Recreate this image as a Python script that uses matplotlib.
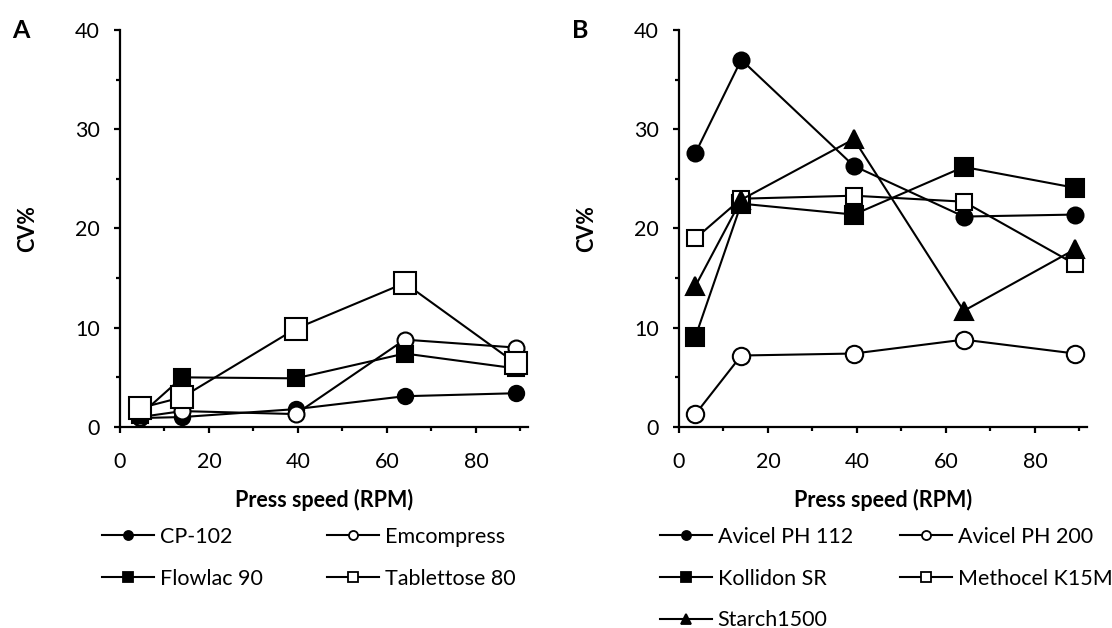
import matplotlib.pyplot as plt
from matplotlib.lines import Line2D
from matplotlib.ticker import MultipleLocator

plt.rcParams['font.family'] = ['Lato', 'DejaVu Sans']

# press speed (RPM)
speed_a = [4.5, 14, 39.5, 64, 89]
speed_b = [3.7, 14, 39.3, 64, 89]

# panel A: CV% per excipient
cp102 = [0.9, 1.0, 1.8, 3.1, 3.4]
emcompress = [1.0, 1.6, 1.3, 8.8, 8.0]
flowlac90 = [1.2, 5.0, 4.9, 7.4, 5.9]
tablettose80 = [1.9, 3.0, 9.9, 14.5, 6.4]

# panel B: CV% per excipient
avicel112 = [27.6, 37.0, 26.3, 21.2, 21.4]
avicel200 = [1.3, 7.2, 7.4, 8.8, 7.4]
kollidon = [9.1, 22.5, 21.4, 26.2, 24.1]
methocel = [19.0, 23.0, 23.3, 22.7, 16.4]
starch = [14.2, 22.9, 29.0, 11.7, 17.9]

fig = plt.figure(figsize=(11.12, 6.28), dpi=100)
ax_a = fig.add_axes([0.1079, 0.3201, 0.3669, 0.6322])
ax_b = fig.add_axes([0.6106, 0.3201, 0.3669, 0.6322])

lw = 1.5
def series(ax, x, y, marker, filled, ms):
    ax.plot(x, y, color="black", lw=lw, marker=marker, ms=ms,
            mfc="black" if filled else "white", mec="black", mew=1.5,
            clip_on=False, zorder=3)

series(ax_a, speed_a, cp102, "o", True, 11)
series(ax_a, speed_a, emcompress, "o", False, 11.5)
series(ax_a, speed_a, flowlac90, "s", True, 11.5)
series(ax_a, speed_a, tablettose80, "s", False, 16)

series(ax_b, speed_b, avicel112, "o", True, 11.5)
series(ax_b, speed_b, avicel200, "o", False, 12.5)
series(ax_b, speed_b, kollidon, "s", True, 12.5)
series(ax_b, speed_b, methocel, "s", False, 11)
series(ax_b, speed_b, starch, "^", True, 13)

for ax in (ax_a, ax_b):
    ax.set_xlim(0, 91.7)
    ax.set_ylim(0, 40)
    ax.spines["top"].set_visible(False)
    ax.spines["right"].set_visible(False)
    for s in ("left", "bottom"):
        ax.spines[s].set_linewidth(1.6)
    ax.xaxis.set_major_locator(MultipleLocator(20))
    ax.xaxis.set_minor_locator(MultipleLocator(10))
    ax.yaxis.set_major_locator(MultipleLocator(10))
    ax.yaxis.set_minor_locator(MultipleLocator(5))
    ax.tick_params(which="major", direction="out", length=4.5, width=1.6,
                   labelsize=15.5, pad=10)
    ax.tick_params(axis="x", which="major", pad=13.5)
    ax.tick_params(which="minor", direction="out", length=3, width=1.6)
    ax.set_xlabel("Press speed (RPM)", fontsize=15.5, fontweight="bold", va="center")
    ax.xaxis.set_label_coords(0.5, -73 / 397)
    ax.set_ylabel("CV%", fontsize=15.5, fontweight="bold", va="center")
    ax.yaxis.set_label_coords(-92 / 408, 0.5)

fig.text(21 / 1112, 1 - 30 / 628, "A", fontsize=18, fontweight="bold",
         ha="center", va="center")
fig.text(580 / 1112, 1 - 30 / 628, "B", fontsize=18, fontweight="bold",
         ha="center", va="center")

def handle(marker, filled):
    return Line2D([], [], color="black", lw=lw, marker=marker, ms=6.5,
                  mfc="black" if filled else "white", mec="black", mew=1.3)

# column-major order so the legend reads row by row
h_a = [handle("o", True), handle("s", True), handle("o", False), handle("s", False)]
l_a = ["CP-102", "Flowlac 90", "Emcompress", "Tablettose 80"]
h_b = [handle("o", True), handle("s", True), handle("^", True),
       handle("o", False), handle("s", False)]
l_b = ["Avicel PH 112", "Kollidon SR", "Starch1500", "Avicel PH 200", "Methocel K15M"]

leg_kw = dict(ncol=2, frameon=False, fontsize=15.5, handlelength=2.4,
              handletextpad=0.28, labelspacing=1.0, borderpad=0,
              borderaxespad=0, loc="upper left")
fig.legend(h_a, l_a, bbox_to_anchor=(102 / 1112, 0.1608), columnspacing=3.0, **leg_kw)
fig.legend(h_b, l_b, bbox_to_anchor=(660 / 1112, 0.1608), columnspacing=2.2, **leg_kw)

fig.savefig("out.png", dpi=100)
